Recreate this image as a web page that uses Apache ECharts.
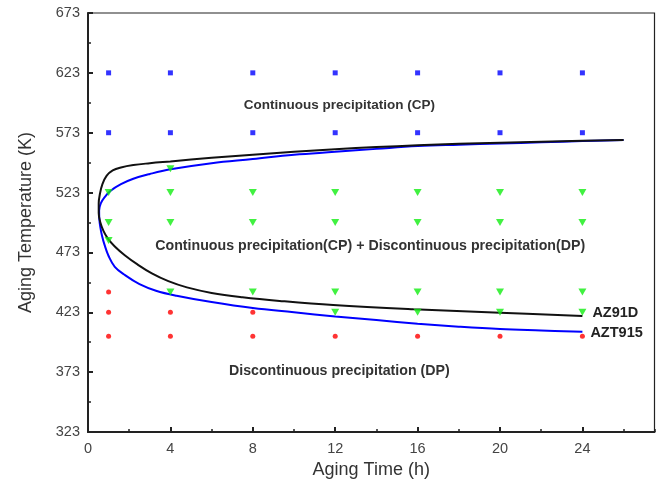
<!DOCTYPE html>
<html>
<head>
<meta charset="utf-8">
<script src="https://cdn.jsdelivr.net/npm/echarts@6/dist/echarts.min.js"></script>
<style>
html,body{margin:0;padding:0;background:#fff;}
#chart{width:660px;height:491px;}
</style>
</head>
<body>
<div id="chart"></div>
<script>
// Data
var cpSquares = [
  [1,623],[4,623],[8,623],[12,623],[16,623],[20,623],[24,623],
  [1,573],[4,573],[8,573],[12,573],[16,573],[20,573],[24,573]
];
var cpdpTriangles = [
  [4,543],
  [1,523],[4,523],[8,523],[12,523],[16,523],[20,523],[24,523],
  [1,498],[4,498],[8,498],[12,498],[16,498],[20,498],[24,498],
  [1,483],
  [4,440],[8,440],[12,440],[16,440],[20,440],[24,440],
  [12,423],[16,423],[20,423],[24,423]
];
var dpCircles = [
  [1,440],
  [1,423],[4,423],[8,423],
  [1,403],[4,403],[8,403],[12,403],[16,403],[20,403],[24,403]
];
var az91dCurve = [
  [26,567],[24,566.3],[22,565.5],[20,564.6],[18,563.7],[16,562.5],[14,561],[12,559.2],
  [10,557],[8,554.6],[6,552],[4,549],[3,547.5],[2.2,546],[1.6,544],[1.2,541.5],
  [0.9,537],[0.7,530],[0.58,522],[0.52,514],[0.52,506],[0.6,498],[0.75,491],[0.95,485],
  [1.3,478],[1.8,470.5],[2.4,463],[3.1,455.5],[3.9,449],[4.8,443.8],[6,439.2],[7.5,435.6],
  [9.3,432.5],[11.9,429],[15.8,425.5],[20,422.6],[24,419.8]
];
var azt915Curve = [
  [26,567],[24,566],[22,565],[20,564],[18,563],[16,561.8],[14,559.5],[12,557],
  [10,554.6],[8,551],[6,547.5],[4,542.4],[3,538.5],[2.2,534.5],[1.6,530],[1.1,524.5],
  [0.8,519],[0.62,514],[0.54,508],[0.55,501],[0.6,494],[0.68,487],[0.8,479.5],[1.0,470],
  [1.3,461],[1.8,454],[2.5,446.5],[3.3,441],[4.3,436.8],[6,431.5],[8,426.5],[10,423],
  [12,419.5],[14,416.5],[16,413.5],[18,411],[20,409],[22,407.8],[24,406.7]
];
var seriesNames = ['AZ91D','AZT915'];
var regionTexts = [
  {text:'Continuous precipitation (CP)', x:12.2, y:596, size:13.5},
  {text:'Continuous precipitation(CP) + Discontinuous precipitation(DP)', x:13.7, y:478.5, size:14.2},
  {text:'Discontinuous precipitation (DP)', x:12.2, y:374, size:14.2}
];

var chart = echarts.init(document.getElementById('chart'));
var font = 'Liberation Sans, Arial, sans-serif';
var option = {
  animation:false,
  grid:{left:88,right:5.5,top:13,bottom:59,show:true,borderColor:'#222',borderWidth:1.2},
  xAxis:[{
    type:'value',min:0,max:27.5,interval:4,
    name:'Aging Time (h)',nameLocation:'middle',nameGap:27,
    nameTextStyle:{fontFamily:font,fontSize:18,color:'#333'},
    axisLine:{show:true,lineStyle:{color:'#222',width:2}},
    axisTick:{show:true,inside:true,length:5,lineStyle:{color:'#222',width:2}},
    axisLabel:{fontFamily:font,fontSize:14.5,color:'#444',margin:9,showMaxLabel:false},
    splitLine:{show:false}
  },{
    type:'value',min:0,max:27.5,interval:2,position:'bottom',
    axisLine:{show:false},
    axisTick:{show:true,inside:true,length:3,lineStyle:{color:'#222',width:1.5}},
    axisLabel:{show:false},splitLine:{show:false}
  }],
  yAxis:{
    type:'value',min:323,max:673,interval:50,
    name:'Aging Temperature (K)',nameLocation:'middle',nameGap:53,
    nameTextStyle:{fontFamily:font,fontSize:18,color:'#333'},
    axisLine:{show:true,lineStyle:{color:'#222',width:2}},
    axisTick:{show:true,inside:true,length:5,lineStyle:{color:'#222',width:2}},
    minorTick:{show:true,splitNumber:2,length:3,lineStyle:{color:'#222',width:1.5}},
    axisLabel:{fontFamily:font,fontSize:14.5,color:'#444',margin:8},
    splitLine:{show:false}
  },
  series:[
    {type:'scatter',data:cpSquares,symbol:'rect',symbolSize:5,itemStyle:{color:'#0000ff'},z:3},
    {type:'scatter',data:cpdpTriangles,symbol:'triangle',symbolRotate:180,symbolSize:[8,7],itemStyle:{color:'#11ee11'},z:3},
    {type:'scatter',data:dpCircles,symbol:'circle',symbolSize:5,itemStyle:{color:'#ff0000'},z:3},
    {type:'line',name:seriesNames[1],data:azt915Curve,smooth:0.4,showSymbol:false,
      lineStyle:{color:'#0000ff',width:2},z:2,
      endLabel:{show:true,formatter:seriesNames[1],fontFamily:font,fontSize:14.5,fontWeight:'bold',color:'#222',distance:8,offset:[0,1]}},
    {type:'line',name:seriesNames[0],data:az91dCurve,smooth:0.4,showSymbol:false,
      lineStyle:{color:'#111',width:2},z:2,
      endLabel:{show:true,formatter:seriesNames[0],fontFamily:font,fontSize:14.5,fontWeight:'bold',color:'#222',distance:10,offset:[0,-3]}}
  ]
};
chart.setOption(option);
var g = regionTexts.map(function(t){
  var p = chart.convertToPixel({xAxisIndex:0,yAxisIndex:0},[t.x,t.y]);
  return {type:'text',x:p[0],y:p[1],z:10,
    style:{text:t.text,fill:'#333',font:'bold '+t.size+'px '+font,textAlign:'center',textVerticalAlign:'middle'}};
});
chart.setOption({graphic:g});
</script>
</body>
</html>
